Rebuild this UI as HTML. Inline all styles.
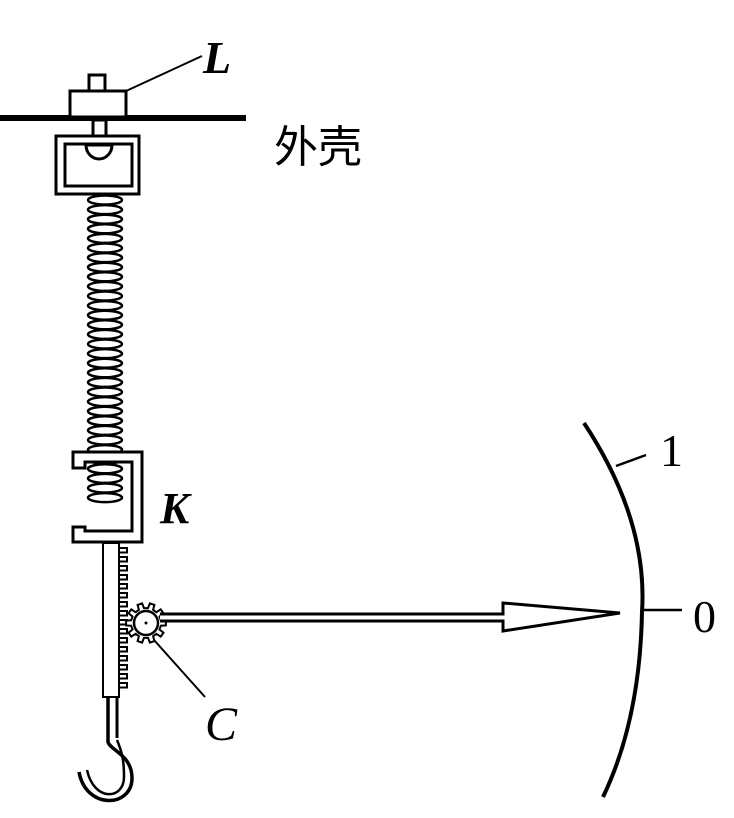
<!DOCTYPE html>
<html><head><meta charset="utf-8"><style>html,body{margin:0;padding:0;background:#fff;width:734px;height:818px;overflow:hidden}</style></head>
<body>
<svg id="s" width="734" height="818" viewBox="0 0 734 818" xmlns="http://www.w3.org/2000/svg" fill="none" stroke="#000" stroke-width="3">
<line x1="0" y1="118" x2="246" y2="118" stroke-width="6"/>
<rect x="70" y="91" width="56" height="26" fill="#fff"/>
<rect x="89" y="75" width="16" height="16" fill="#fff"/>
<rect x="93" y="120" width="13" height="20" fill="#fff"/>
<line x1="126" y1="91" x2="202" y2="56" stroke-width="2"/>
<text x="203" y="73" font-family="Liberation Serif,serif" font-style="italic" font-weight="bold" font-size="46" fill="#000" stroke="none">L</text>
<text x="274" y="162" font-family="Liberation Sans,'Noto Sans CJK SC',sans-serif" font-size="44" fill="#000" stroke="none">外壳</text>
<rect x="56" y="136" width="83" height="58" fill="#fff"/>
<rect x="65" y="144" width="67" height="42"/>
<path d="M86 145 A13 14 0 0 0 112 145 Z" fill="#fff"/>
<g id="spring" stroke-width="2.5"></g>
<path d="M142 452 H73 V468 H85 V462 H132 V531 H85 V527 H73 V542 H142 Z" fill="#fff"/>
<text x="160" y="523" font-family="Liberation Serif,serif" font-style="italic" font-weight="bold" font-size="44" fill="#000" stroke="none">K</text>
<rect x="103" y="543" width="16" height="154" fill="#fff" stroke-width="2"/>
<path id="teeth" stroke-width="2"/>
<path d="M108 697 V742 C110 750 132 755 132 778 C132 808 86 810 79 772" stroke-width="3.5"/>
<path d="M117 697 V738" stroke-width="3"/>
<path d="M117 740 C122 752 124 760 124 777 C124 800 94 802 87 770" stroke-width="2.5"/>
<path id="gear" stroke-width="2" fill="#fff"/>
<circle cx="146" cy="623" r="12" fill="#fff" stroke-width="2.5"/>
<circle cx="146" cy="623" r="1.5" fill="#000" stroke="none"/>
<line x1="154" y1="640" x2="205" y2="697" stroke-width="2"/>
<text x="205" y="740" font-family="Liberation Serif,serif" font-style="italic" font-size="48" fill="#000" stroke="none">C</text>
<path d="M160 614 H503 V603 L620 613 L503 631 V621 H160" fill="#fff" stroke-width="3"/>
<path d="M584 423 Q648 520 642 612 Q640 720 603 797" stroke-width="4"/>
<line x1="616" y1="466" x2="646" y2="455" stroke-width="2.5"/>
<line x1="642" y1="610" x2="682" y2="610" stroke-width="2.5"/>
<text x="660" y="466" font-family="Liberation Serif,serif" font-size="46" fill="#000" stroke="none">1</text>
<text x="693" y="632" font-family="Liberation Serif,serif" font-size="46" fill="#000" stroke="none">0</text>
</svg>
<script>
var g=document.getElementById('spring'),h='';
for(var y=200;y<=500;y+=9.6){h+='<ellipse cx="105" cy="'+y+'" rx="17" ry="4.5"/>';}
g.innerHTML=h;
var d='M119 548';
for(var y=548;y<692;y+=9){d+=' H127 V'+(y+4.5)+' H119 V'+(y+9);}
document.getElementById('teeth').setAttribute('d',d);
var p='';for(var i=0;i<10;i++){var a=i*Math.PI/5;for(var k=0;k<4;k++){var aa=a+[-0.18,-0.12,0.12,0.18][k];var r=[15,20,20,15][k];p+=(p?' L':'M')+(146+r*Math.cos(aa)).toFixed(1)+' '+(623+r*Math.sin(aa)).toFixed(1);}}
document.getElementById('gear').setAttribute('d',p+' Z');
</script>
</body></html>
